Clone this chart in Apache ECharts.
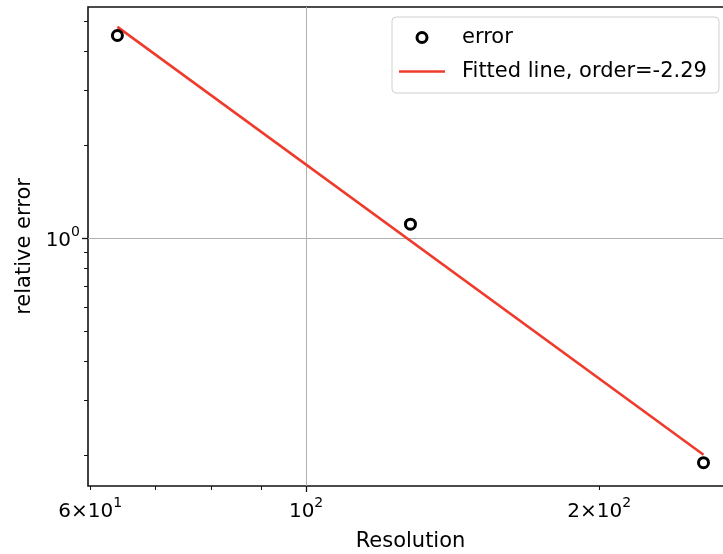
<!DOCTYPE html>
<html>
<head>
<meta charset="utf-8">
<script src="https://cdn.jsdelivr.net/npm/echarts@6/dist/echarts.min.js"></script>
<style>
  html, body { margin: 0; padding: 0; background: #fff; }
  #chart { width: 723px; height: 554px; }
</style>
</head>
<body>
<div id="chart"></div>
<script>
// Convergence data: grid resolution vs. relative error
const resolution = [64, 128, 256];
const relError = [4.5, 1.11, 0.189];
const fitOrder = -2.29;

// Axis ranges (log scale)
const xRange = [59.7, 274.5];
const yRange = [0.159, 5.56];

// Tick labels as [mantissa part, exponent]
const xTickValues = [60, 100, 200];
const xTickText = [['6×10', '1'], ['10', '2'], ['2×10', '2']];
const xMajorTicks = [100];
const xMinorTicks = [60, 70, 80, 90, 200];
const yTickValues = [1];
const yTickText = [['10', '0']];
const yMajorTicks = [1];
const yMinorTicks = [0.2, 0.3, 0.4, 0.5, 0.6, 0.7, 0.8, 0.9, 2, 3, 4, 5];

const errorName = 'error';
const fitName = 'Fitted line, order=' + fitOrder.toFixed(2);

// Fitted power law: intercept from the log-space means, slope = fitOrder
const lx = resolution.map(Math.log10);
const ly = relError.map(Math.log10);
const mean = a => a.reduce((s, v) => s + v, 0) / a.length;
const intercept = mean(ly) - fitOrder * mean(lx);
const fitEnds = [resolution[0], resolution[resolution.length - 1]];
const fitData = fitEnds.map(x => [x, Math.pow(10, intercept + fitOrder * Math.log10(x))]);

const FONT = 'DejaVu Sans';
const FIT_COLOR = '#ee3b2b';

function powLabel(values, texts) {
  return function (v) {
    for (let i = 0; i < values.length; i++) {
      if (Math.abs(v - values[i]) < 1e-6 * values[i]) {
        return '{b|' + texts[i][0] + '}{s|' + texts[i][1] + '}';
      }
    }
    return '';
  };
}

const rich = {
  b: { fontFamily: FONT, fontSize: 20, color: '#000', lineHeight: 26, verticalAlign: 'bottom' },
  s: { fontFamily: FONT, fontSize: 14, color: '#000', lineHeight: 14, verticalAlign: 'top' }
};

const chart = echarts.init(document.getElementById('chart'), null, { renderer: 'canvas' });

chart.setOption({
  animation: false,
  backgroundColor: '#fff',
  grid: {
    left: 88, top: 7, width: 645, height: 479,
    outerBoundsMode: 'none', containLabel: false,
    show: true, borderColor: '#111', borderWidth: 1.6, backgroundColor: 'transparent'
  },
  legend: {
    orient: 'vertical',
    left: 392, top: 17,
    padding: [10, 12, 11, 7],
    itemWidth: 46, itemHeight: 10, itemGap: 13,
    backgroundColor: 'rgba(255,255,255,0.85)',
    borderColor: '#d0d0d0', borderWidth: 1, borderRadius: 4,
    textStyle: { fontFamily: FONT, fontSize: 21, color: '#000', lineHeight: 20, padding: [0, 0, 0, 12] },
    data: [
      {
        name: errorName, icon: 'circle',
        itemStyle: { color: 'rgba(0,0,0,0)', borderColor: '#000', borderWidth: 3 }
      },
      {
        name: fitName, icon: 'path://M0,0H46V2.6H0Z',
        itemStyle: { color: FIT_COLOR, borderWidth: 0 }
      }
    ]
  },
  xAxis: [
    {
      type: 'log', logBase: 10, min: xRange[0], max: xRange[1], position: 'bottom',
      name: 'Resolution', nameLocation: 'middle', nameGap: 45,
      nameTextStyle: { fontFamily: FONT, fontSize: 21, color: '#000' },
      axisLine: { show: false },
      axisTick: { show: true, length: 6, customValues: xMajorTicks, lineStyle: { color: '#111', width: 1.3 } },
      axisLabel: { show: true, margin: 10, customValues: xTickValues, formatter: powLabel(xTickValues, xTickText), rich: rich },
      splitLine: { show: true, lineStyle: { color: '#b0b0b0', width: 1 } },
      minorTick: { show: false }
    },
    {
      type: 'log', logBase: 10, min: xRange[0], max: xRange[1], position: 'bottom',
      axisLine: { show: false },
      axisTick: { show: true, length: 4, customValues: xMinorTicks, lineStyle: { color: '#111', width: 1 } },
      axisLabel: { show: false },
      splitLine: { show: false }
    }
  ],
  yAxis: [
    {
      type: 'log', logBase: 10, min: yRange[0], max: yRange[1], position: 'left',
      name: 'relative error', nameLocation: 'middle', nameGap: 45,
      nameTextStyle: { fontFamily: FONT, fontSize: 21, color: '#000' },
      axisLine: { show: false },
      axisTick: { show: true, length: 6, customValues: yMajorTicks, lineStyle: { color: '#111', width: 1.3 } },
      axisLabel: { show: true, margin: 8, customValues: yTickValues, formatter: powLabel(yTickValues, yTickText), rich: rich },
      splitLine: { show: true, lineStyle: { color: '#b0b0b0', width: 1 } },
      minorTick: { show: false }
    },
    {
      type: 'log', logBase: 10, min: yRange[0], max: yRange[1], position: 'left',
      axisLine: { show: false },
      axisTick: { show: true, length: 4, customValues: yMinorTicks, lineStyle: { color: '#111', width: 1 } },
      axisLabel: { show: false },
      splitLine: { show: false }
    }
  ],
  series: [
    {
      name: errorName,
      type: 'scatter',
      xAxisIndex: 0, yAxisIndex: 0,
      symbol: 'circle', symbolSize: 10,
      itemStyle: { color: 'rgba(0,0,0,0)', borderColor: '#000', borderWidth: 3, opacity: 1 },
      data: resolution.map((x, i) => [x, relError[i]]),
      z: 3
    },
    {
      name: fitName,
      type: 'line',
      xAxisIndex: 0, yAxisIndex: 0,
      symbol: 'none', showSymbol: false,
      lineStyle: { color: FIT_COLOR, width: 2.6 },
      itemStyle: { color: FIT_COLOR },
      data: fitData,
      z: 2
    }
  ]
});
</script>
</body>
</html>
